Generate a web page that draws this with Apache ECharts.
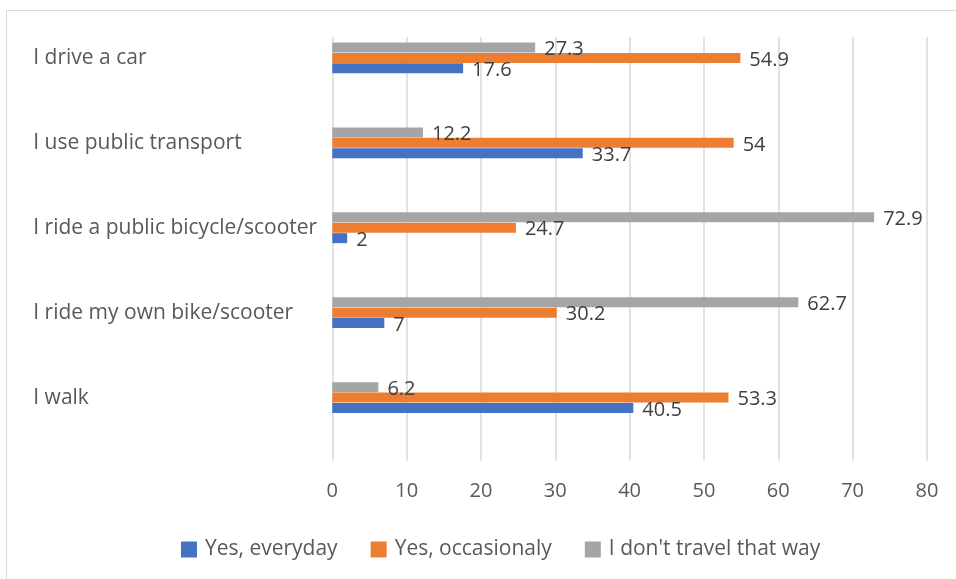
<!DOCTYPE html>
<html>
<head>
<meta charset="utf-8">
<script src="https://cdn.jsdelivr.net/npm/echarts@6/dist/echarts.min.js"></script>
<style>html,body{margin:0;padding:0;background:#fff}#c{width:956px;height:579px}</style>
</head>
<body>
<div id="c"></div>
<script>
const categories = ['I drive a car', 'I use public transport', 'I ride a public bicycle/scooter', 'I ride my own bike/scooter', 'I walk'];
const seriesNames = ['Yes, everyday', 'Yes, occasionaly', "I don't travel that way"];
const everyday = [17.6, 33.7, 2, 7, 40.5];
const occasionally = [54.9, 54, 24.7, 30.2, 53.3];
const notTravel = [27.3, 12.2, 72.9, 62.7, 6.2];
const xTicks = [0, 10, 20, 30, 40, 50, 60, 70, 80];
const colors = ['#4472C4', '#ED7D31', '#A5A5A5'];

const FONT = '"Open Sans", "Liberation Sans", sans-serif';
const chart = echarts.init(document.getElementById('c'), null, {renderer: 'canvas'});
const labelStyle = {show: true, position: 'right', distance: 9, color: '#404040', fontSize: 20, fontFamily: FONT, offset: [0, 2]};
const values = [everyday, occasionally, notTravel];
const series = [2, 1, 0].map(i => ({
  name: seriesNames[i], type: 'bar', xAxisIndex: 0, yAxisIndex: 0,
  data: values[i], barWidth: 10, barGap: '4%',
  itemStyle: {color: colors[i]},
  label: labelStyle
}));
chart.setOption({
  animation: false,
  graphic: [{type: 'rect', shape: {x: 6.5, y: 10.5, width: 1200, height: 1200}, style: {fill: 'none', stroke: '#d9d9d9', lineWidth: 1}, silent: true, z: -1}],
  grid: [
    {left: 332.3, width: 594.6, top: 15.5, height: 424.5},
    {left: 332.3, width: 594.6, top: 37, height: 423.7}
  ],
  xAxis: [
    {gridIndex: 0, type: 'value', min: xTicks[0], max: xTicks[xTicks.length - 1], interval: 10, show: false},
    {gridIndex: 1, type: 'value', min: xTicks[0], max: xTicks[xTicks.length - 1], interval: 10,
     axisLine: {show: false}, axisTick: {show: false},
     splitLine: {show: true, lineStyle: {color: '#d9d9d9', width: 1.5}},
     axisLabel: {color: '#595959', fontSize: 20, fontFamily: FONT, margin: 21}}
  ],
  yAxis: [
    {gridIndex: 0, type: 'category', data: categories, inverse: true,
     axisLine: {show: false}, axisTick: {show: false}, splitLine: {show: false},
     axisLabel: {align: 'left', margin: 299, color: '#595959', fontSize: 21, fontFamily: FONT}},
    {gridIndex: 1, type: 'value', show: false}
  ],
  legend: {
    data: seriesNames, bottom: 14, left: 176, padding: 5, itemGap: 33, itemWidth: 16, itemHeight: 16,
    icon: 'rect',
    textStyle: {color: '#595959', fontSize: 21, fontFamily: FONT, padding: [0, 0, 0, 3]}
  },
  series: series
});
</script>
</body>
</html>
